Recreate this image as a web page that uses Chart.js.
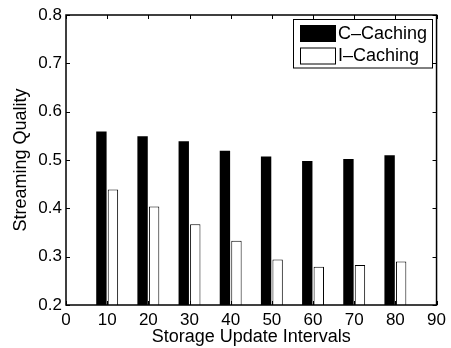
<!DOCTYPE html>
<html>
<head>
<meta charset="utf-8">
<script src="https://cdn.jsdelivr.net/npm/chart.js@4"></script>
<style>
  html, body { margin: 0; padding: 0; background: #fff; }
  #wrap { width: 451px; height: 348px; }
</style>
</head>
<body>
<div id="wrap"><canvas id="qualityChart" width="451" height="348"></canvas></div>
<script>
var intervals = [10, 20, 30, 40, 50, 60, 70, 80];
var cCaching = [0.559, 0.549, 0.539, 0.519, 0.507, 0.498, 0.502, 0.510];
var iCaching = [0.439, 0.404, 0.367, 0.333, 0.294, 0.279, 0.283, 0.290];
var seriesNames = ['C\u2013Caching', 'I\u2013Caching'];
var xTicks = [0, 10, 20, 30, 40, 50, 60, 70, 80, 90];
var yTicks = [0.2, 0.3, 0.4, 0.5, 0.6, 0.7, 0.8];

var FONT = 'Liberation Sans, Arial, Helvetica, sans-serif';

function points(vals) {
    return intervals.map(function (x, i) { return { x: x, y: vals[i] }; });
}

// MATLAB-like box with inward ticks plus legend box
var matlabBox = {
    id: 'matlabBox',
    afterDatasetsDraw: function (chart) {
        var ctx = chart.ctx;
        var a = chart.chartArea;
        var xs = chart.scales.x, ys = chart.scales.y;
        var tl = 4;
        ctx.save();
        ctx.strokeStyle = '#000';
        ctx.lineWidth = 1;
        ctx.beginPath();
        xTicks.forEach(function (t) {
            var px = Math.round(xs.getPixelForValue(t)) + 0.5;
            ctx.moveTo(px, a.bottom); ctx.lineTo(px, a.bottom - tl);
            ctx.moveTo(px, a.top); ctx.lineTo(px, a.top + tl);
        });
        yTicks.forEach(function (t) {
            var py = Math.round(ys.getPixelForValue(t)) + 0.5;
            ctx.moveTo(a.left, py); ctx.lineTo(a.left + tl, py);
            ctx.moveTo(a.right, py); ctx.lineTo(a.right - tl, py);
        });
        ctx.stroke();
        ctx.lineWidth = 1.5;
        ctx.strokeRect(a.left, a.top, a.right - a.left, a.bottom - a.top);

        // legend
        var lx = 293, ly = 19.5, lw = 139, lh = 48.5;
        ctx.fillStyle = '#fff';
        ctx.fillRect(lx, ly, lw, lh);
        ctx.lineWidth = 1;
        ctx.strokeRect(lx + 0.5, ly, lw, lh);
        ctx.font = '18px ' + FONT;
        ctx.textBaseline = 'middle';
        chart.data.datasets.forEach(function (ds, i) {
            var sy = ly + 5.5 + i * 22.5;
            ctx.fillStyle = ds.backgroundColor;
            ctx.fillRect(300, sy, 36, 17);
            ctx.strokeStyle = '#000';
            ctx.strokeRect(300.5, sy + 0.5, 35, 16);
            ctx.fillStyle = '#000';
            ctx.fillText(ds.label, 338, sy + 9);
        });
        ctx.restore();
    }
};

var ctx = document.getElementById('qualityChart').getContext('2d');
var qualityChart = new Chart(ctx, {
    type: 'bar',
    data: {
        datasets: [{
            label: seriesNames[0],
            data: points(cCaching),
            backgroundColor: '#000',
            borderColor: '#000',
            borderWidth: 0
        }, {
            label: seriesNames[1],
            data: points(iCaching),
            backgroundColor: '#fff',
            borderColor: '#000',
            borderWidth: 1
        }]
    },
    options: {
        responsive: false,
        animation: false,
        devicePixelRatio: 1,
        categoryPercentage: 0.56,
        barPercentage: 0.9,
        layout: { padding: { top: 15, right: 13, left: 0, bottom: 0 } },
        plugins: {
            legend: { display: false },
            tooltip: { enabled: false }
        },
        scales: {
            x: {
                type: 'linear',
                offset: false,
                min: 0,
                max: 90,
                grid: { display: false, drawTicks: false },
                border: { display: false },
                ticks: {
                    stepSize: 10,
                    color: '#000',
                    padding: 5,
                    maxRotation: 0,
                    font: { family: FONT, size: 17 }
                },
                title: {
                    display: true,
                    text: 'Storage Update Intervals',
                    color: '#000',
                    padding: { top: 0, bottom: 0 },
                    font: { family: FONT, size: 18 }
                },
                afterFit: function (s) { s.height = 43; }
            },
            y: {
                min: 0.2,
                max: 0.8,
                grid: { display: false, drawTicks: false },
                border: { display: false },
                ticks: {
                    stepSize: 0.1,
                    color: '#000',
                    padding: 4,
                    font: { family: FONT, size: 17 },
                    callback: function (v) { return v.toFixed(1); }
                },
                title: {
                    display: true,
                    text: 'Streaming Quality',
                    color: '#000',
                    padding: { top: 10, bottom: 0 },
                    font: { family: FONT, size: 18 }
                },
                afterFit: function (s) { s.width = 66; }
            }
        }
    },
    plugins: [matlabBox]
});
</script>
</body>
</html>
